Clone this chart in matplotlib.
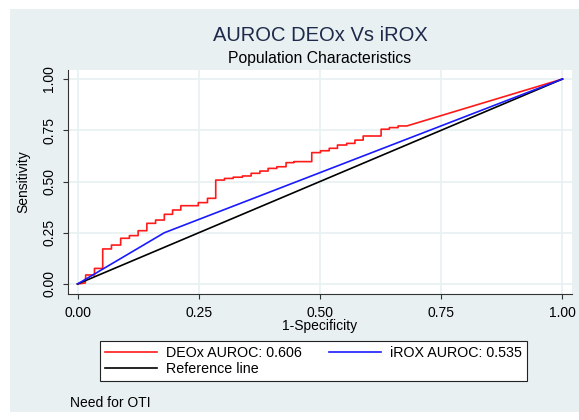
import matplotlib.pyplot as plt
from matplotlib.patches import Rectangle

# ROC points
deox_fpr = [0.0, 0.016, 0.017, 0.035, 0.035, 0.052, 0.052, 0.070, 0.070, 0.089, 0.089,
            0.107, 0.107, 0.125, 0.125, 0.143, 0.143, 0.161, 0.161, 0.179, 0.179, 0.196,
            0.196, 0.213, 0.213, 0.249, 0.249, 0.268, 0.268, 0.285, 0.285, 0.303, 0.303,
            0.321, 0.321, 0.340, 0.340, 0.358, 0.358, 0.376, 0.376, 0.393, 0.393, 0.411,
            0.411, 0.430, 0.430, 0.446, 0.446, 0.483, 0.483, 0.501, 0.501, 0.519, 0.519,
            0.536, 0.536, 0.555, 0.555, 0.572, 0.572, 0.589, 0.589, 0.626, 0.626, 0.643,
            0.643, 0.661, 0.661, 0.679, 1.0]
deox_tpr = [0.0, 0.005, 0.044, 0.044, 0.076, 0.076, 0.171, 0.171, 0.190, 0.190, 0.223,
            0.223, 0.236, 0.236, 0.260, 0.260, 0.296, 0.296, 0.312, 0.312, 0.340, 0.340,
            0.361, 0.361, 0.382, 0.382, 0.397, 0.397, 0.418, 0.418, 0.507, 0.507, 0.515,
            0.515, 0.521, 0.521, 0.527, 0.527, 0.540, 0.540, 0.551, 0.551, 0.564, 0.564,
            0.572, 0.572, 0.592, 0.592, 0.597, 0.597, 0.641, 0.641, 0.650, 0.650, 0.662,
            0.662, 0.678, 0.678, 0.686, 0.686, 0.702, 0.702, 0.722, 0.722, 0.755, 0.755,
            0.763, 0.763, 0.771, 0.771, 1.0]

irox_fpr = [0.0, 0.179, 1.0]
irox_tpr = [0.0, 0.25, 1.0]

ref_x = [0.0, 1.0]
ref_y = [0.0, 1.0]

ticks = [0.0, 0.25, 0.5, 0.75, 1.0]
tick_labels = ['0.00', '0.25', '0.50', '0.75', '1.00']

plt.rcParams['font.family'] = ['Liberation Sans', 'DejaVu Sans']
bg = '#e8f0f2'
W, H = 579, 420

fig = plt.figure(figsize=(5.79, 4.2), dpi=100, facecolor=bg)
# white outer margin (left, top, bottom)
for r in [(0, 0, 10 / W, 1), (0, 1 - 9 / H, 1, 9 / H), (0, 0, 1, 8 / H)]:
    fig.add_artist(Rectangle(r[:2], r[2], r[3], transform=fig.transFigure,
                             facecolor='white', edgecolor='none', zorder=0))

ax = fig.add_axes([68 / W, 1 - 294 / H, (572 - 68) / W, (294 - 70) / H])
ax.set_facecolor('white')
ax.plot(deox_fpr, deox_tpr, color='#ff1a1a', lw=1.2, label='DEOx AUROC: 0.606')
ax.plot(ref_x, ref_y, color='black', lw=1.2, label='Reference line')
ax.plot(irox_fpr, irox_tpr, color='#1a1aff', lw=1.2, label='iROX AUROC: 0.535')

ax.set_xlim(-0.0196, 1.0196)
ax.set_ylim(-0.0488, 1.044)
ax.set_xticks(ticks)
ax.set_xticklabels(tick_labels, fontsize=10)
ax.set_yticks(ticks)
ax.set_yticklabels(tick_labels, fontsize=10, rotation=90, va='center')
ax.tick_params(direction='out', length=3.5, color='#333333', pad=5)
ax.grid(True, color=bg, lw=1.2)
ax.set_axisbelow(True)
for s in ['top', 'right']:
    ax.spines[s].set_visible(False)
for s in ['left', 'bottom']:
    ax.spines[s].set_color('#333333')

fig.text(320 / W, 1 - 35.5 / H, 'AUROC DEOx Vs iROX', ha='center', va='center',
         fontsize=14.5, color='#1e2a4a')
fig.text(320 / W, 1 - 59 / H, 'Population Characteristics', ha='center', va='center',
         fontsize=11.3)
fig.text(320 / W, 1 - 326 / H, '1-Specificity', ha='center', va='center', fontsize=10)
fig.text(23 / W, 1 - 182 / H, 'Sensitivity', ha='center', va='center', fontsize=10,
         rotation=90)
fig.text(70 / W, 1 - 403 / H, 'Need for OTI', ha='left', va='center', fontsize=10)

handles, labels = ax.get_legend_handles_labels()
leg = fig.legend(handles, labels, ncol=2, loc='center',
                 bbox_to_anchor=(313.5 / W, 1 - 361 / H), fontsize=10.3,
                 handlelength=3.6, fancybox=False, edgecolor='#222222',
                 framealpha=1, borderpad=0.35, labelspacing=0.2,
                 columnspacing=1.9, handletextpad=0.65)
leg.get_frame().set_linewidth(0.8)

fig.savefig('out.png', dpi=100, facecolor=bg)
